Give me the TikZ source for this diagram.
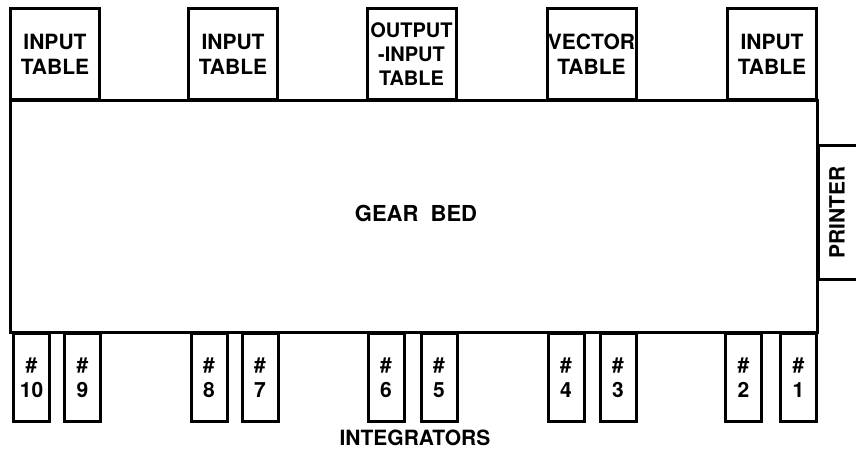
\documentclass[tikz,border=0pt]{standalone}
\usepackage{fontspec}
\setmainfont{TeX Gyre Heros}
\usepackage{tikz}
\usetikzlibrary{positioning}

\tikzset{
  unitbox/.style={draw, line width=3pt, inner sep=0pt, align=center,
    font=\bfseries\fontsize{21}{25}\selectfont},
  tablebox/.style={unitbox, minimum width=89pt, minimum height=91pt},
  intbox/.style={unitbox, minimum width=36pt, minimum height=88pt},
}

\begin{document}
\begin{tikzpicture}[x=1pt, y=-1pt]
      \useasboundingbox (0,0) rectangle (856,454);

      % --- gear bed ---
      \node[unitbox, minimum width=807pt, minimum height=232pt] (bed) at (414,216.5) {};
      \node[font=\bfseries\fontsize{22}{24}\selectfont] (bedlabel) at (416,213) {GEAR\ \ BED};

      % --- tables along the top ---
      \node[tablebox] (tabA) at (55,54) {INPUT\\TABLE};
      \node[tablebox] (tabB) at (233,54) {INPUT\\TABLE};
      \node[tablebox, font=\bfseries\fontsize{20}{24}\selectfont] (tabC) at (411.5,54) {OUTPUT\\-INPUT\\TABLE};
      \node[tablebox] (tabD) at (591.5,54) {VECTOR\\TABLE};
      \node[tablebox] (tabE) at (772,54) {INPUT\\TABLE};

      % --- printer at the right end ---
      \node[unitbox, rotate=90, minimum width=134pt, minimum height=44pt] (printer) at (840,212.5) {};
      \node[rotate=90, font=\bfseries\fontsize{21}{24}\selectfont] (printerlabel) at (837,212.5) {PRINTER};

      % --- integrators along the bottom ---
      \foreach \x/\n in {31.5/10, 82.5/9, 209/8, 260/7, 386/6, 439/5, 566/4, 618/3, 743.5/2, 798.5/1}
        \node[intbox] (int\n) at (\x,377.5) {\#\\\n};

      \node[font=\bfseries\fontsize{21}{24}\selectfont] (intlabel) at (415,438) {INTEGRATORS};
\end{tikzpicture}
\end{document}
